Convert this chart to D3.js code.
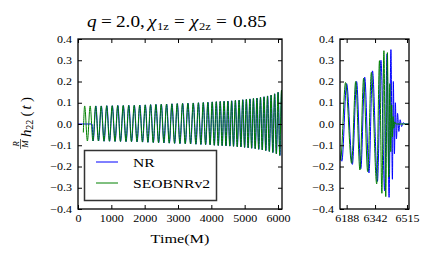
<!DOCTYPE html>
<html>
<head>
<meta charset="utf-8">
<script src="https://cdn.jsdelivr.net/npm/d3@7"></script>
<style>
  body { margin: 0; background: #fff; }
  text { font-family: "Liberation Serif", serif; fill: #000; }
</style>
</head>
<body>
<div class="chart"></div>
<script>
// extrema of the waveforms (time in M, strain)
var eobT = [160, 200, 282, 365, 448, 530, 612, 695, 778, 860, 942, 1025, 1108, 1190, 1272, 1355, 1438, 1520, 1602, 1685,
    1768, 1850, 1932, 2015, 2095, 2175, 2255, 2335, 2415, 2495, 2575, 2655, 2735, 2815, 2895, 2975, 3055, 3135, 3215, 3295,
    3375, 3455, 3535, 3610, 3684, 3756, 3826, 3894, 3960, 4024, 4086, 4146, 4205, 4264, 4322, 4380, 4437, 4494, 4551, 4607,
    4663, 4719, 4775, 4830, 4885, 4940, 4995, 5048, 5101, 5154, 5207, 5260, 5313, 5366, 5419, 5472, 5525, 5578, 5631, 5684,
    5737, 5790, 5843, 5896, 5948, 6000, 6052, 6104, 6155,
    6182, 6215, 6237, 6260, 6280, 6302, 6322, 6351, 6366, 6379, 6390, 6400, 6409, 6416, 6422, 6427, 6432, 6436, 6440, 6444,
    6448, 6455, 6526]
var eobH = [-0.04, 0.085, -0.08, 0.085, -0.08, 0.085, -0.08, 0.085, -0.081, 0.086, -0.081, 0.086, -0.082, 0.087, -0.082, 0.087, -0.083, 0.088, -0.083, 0.088,
    -0.084, 0.089, -0.085, 0.09, -0.086, 0.091, -0.087, 0.092, -0.088, 0.093, -0.089, 0.094, -0.09, 0.095, -0.091, 0.096, -0.092, 0.097, -0.093, 0.098,
    -0.094, 0.099, -0.095, 0.1, -0.096, 0.101, -0.097, 0.102, -0.098, 0.104, -0.1, 0.105, -0.101, 0.106, -0.102, 0.107, -0.103, 0.108, -0.104, 0.109,
    -0.105, 0.111, -0.107, 0.112, -0.108, 0.114, -0.11, 0.116, -0.112, 0.118, -0.114, 0.12, -0.116, 0.122, -0.119, 0.125, -0.122, 0.128, -0.125, 0.132,
    -0.129, 0.136, -0.134, 0.142, -0.14, 0.149, -0.148, 0.158, -0.17,
    0.195, -0.185, 0.2, -0.216, 0.215, -0.224, 0.243, -0.282, 0.298, -0.326, 0.345, -0.342, 0.336, -0.25, 0.19, -0.13, 0.09, -0.06, 0.035, -0.02,
    0.01, 0, 0]

var nrT = [0, 420, 454, 536, 618, 701, 784, 866, 948, 1031, 1114, 1196, 1278, 1361, 1444, 1526, 1608, 1691,
    1774, 1856, 1938, 2021, 2101, 2181, 2261, 2341, 2421, 2501, 2581, 2661, 2741, 2821, 2901, 2981, 3061, 3141, 3221, 3301,
    3381, 3461, 3541, 3616, 3690, 3762, 3832, 3900, 3966, 4030, 4092, 4152, 4211, 4270, 4328, 4386, 4443, 4500, 4557, 4613,
    4669, 4725, 4781, 4836, 4891, 4946, 5001, 5054, 5107, 5160, 5213, 5266, 5319, 5372, 5425, 5478, 5531, 5584, 5637, 5690,
    5743, 5796, 5849, 5902, 5954, 6006, 6058, 6110,
    6162, 6188, 6219, 6242, 6265, 6286, 6309, 6328, 6355, 6374, 6394, 6407, 6418, 6428, 6436, 6441, 6447, 6452, 6458, 6464,
    6471, 6478, 6486, 6494, 6505, 6526]
var nrH = [0, 0, -0.08, 0.085, -0.08, 0.085, -0.081, 0.086, -0.081, 0.086, -0.082, 0.087, -0.082, 0.087, -0.083, 0.088, -0.083, 0.088,
    -0.084, 0.089, -0.085, 0.09, -0.086, 0.091, -0.087, 0.092, -0.088, 0.093, -0.089, 0.094, -0.09, 0.095, -0.091, 0.096, -0.092, 0.097, -0.093, 0.098,
    -0.094, 0.099, -0.095, 0.1, -0.096, 0.101, -0.097, 0.102, -0.098, 0.104, -0.1, 0.105, -0.101, 0.106, -0.102, 0.107, -0.103, 0.108, -0.104, 0.109,
    -0.105, 0.111, -0.107, 0.112, -0.108, 0.114, -0.11, 0.116, -0.112, 0.118, -0.114, 0.12, -0.116, 0.122, -0.119, 0.125, -0.122, 0.128, -0.125, 0.132,
    -0.129, 0.136, -0.134, 0.142, -0.14, 0.149, -0.148, 0.158,
    -0.175, 0.19, -0.19, 0.2, -0.21, 0.22, -0.23, 0.25, -0.27, 0.3, -0.315, 0.33, -0.345, 0.35, -0.26, 0.2, -0.14, 0.1, -0.07, 0.05,
    -0.035, 0.02, -0.012, 0.006, 0, 0]

var yTicks = [-0.4, -0.3, -0.2, -0.1, 0.0, 0.1, 0.2, 0.3, 0.4]
var mainTicks = [0, 1000, 2000, 3000, 4000, 5000, 6000]
var zoomTicks = [6188, 6342, 6515]
var seriesNames = ['NR', 'SEOBNRv2']
var seriesColors = ['#0000ff', '#008000']

var width = 436, height = 269
var plotTop = 39, plotBottom = 209
var sx = 1.2   // glyphs in the picture are a bit wider than Liberation Serif

var svg = d3.select('.chart')
    .append('svg')
    .attr('width', width)
    .attr('height', height)

var y = d3.scaleLinear().domain([-0.4, 0.4]).range([plotBottom, plotTop])
var xMain = d3.scaleLinear().domain([0, 6120]).range([78, 282])
var xZoom = d3.scaleLinear().domain([6152, 6526]).range([340, 409])

function stretch(sel) {
    sel.each(function () {
        var t = d3.select(this)
        var x = +(t.attr('x') || 0)
        t.attr('x', x / sx).attr('transform', 'scale(' + sx + ',1)')
    })
}

function label(x, yy, str, size, italic, anchor) {
    var g = svg.append('g').attr('transform', 'translate(' + x + ',' + yy + ') scale(' + sx + ',1)')
    g.append('text')
        .attr('font-size', size)
        .attr('font-style', italic ? 'italic' : null)
        .attr('text-anchor', anchor || 'start')
        .text(str)
    return g
}

function panel(x, id) {
    var r = x.range()
    svg.append('clipPath').attr('id', id)
        .append('rect')
        .attr('x', r[0]).attr('y', plotTop)
        .attr('width', r[1] - r[0]).attr('height', plotBottom - plotTop)

    var series = [[nrT, nrH], [eobT, eobH]]
    series.forEach(function (s, k) {
        var line = d3.line()
            .x(function (i) { return x(s[0][i]) })
            .y(function (i) { return y(s[1][i]) })
            .curve(d3.curveMonotoneX)
        svg.append('path')
            .attr('clip-path', 'url(#' + id + ')')
            .attr('d', line(d3.range(s[0].length)))
            .attr('fill', 'none')
            .attr('stroke', seriesColors[k])
            .attr('stroke-width', 1)
    })
}

function frame(x, xTicks) {
    var r = x.range()
    var fmt = function (d) { return d3.format('.1f')(d) }

    var bottomAxis = svg.append('g')
        .attr('transform', 'translate(0,' + plotBottom + ')')
        .call(d3.axisBottom(x).tickValues(xTicks).tickSizeInner(-4).tickSizeOuter(0).tickPadding(6)
            .tickFormat(d3.format('d')))
    svg.append('g')
        .attr('transform', 'translate(0,' + plotTop + ')')
        .call(d3.axisTop(x).tickValues(xTicks).tickSizeInner(-4).tickSizeOuter(0).tickFormat(''))
    var leftAxis = svg.append('g')
        .attr('transform', 'translate(' + r[0] + ',0)')
        .call(d3.axisLeft(y).tickValues(yTicks).tickSizeInner(-4).tickSizeOuter(0).tickPadding(6)
            .tickFormat(fmt))
    svg.append('g')
        .attr('transform', 'translate(' + r[1] + ',0)')
        .call(d3.axisRight(y).tickValues(yTicks).tickSizeInner(-4).tickSizeOuter(0).tickFormat(''))

    svg.selectAll('.domain').remove()
    svg.selectAll('.tick line').attr('stroke', '#000').attr('stroke-width', 1)
    bottomAxis.selectAll('text').attr('font-size', 10).attr('font-family', '"Liberation Serif", serif').call(stretch)
    leftAxis.selectAll('text').attr('font-size', 10).attr('font-family', '"Liberation Serif", serif').call(stretch)

    svg.append('rect')
        .attr('x', r[0]).attr('y', plotTop)
        .attr('width', r[1] - r[0]).attr('height', plotBottom - plotTop)
        .attr('fill', 'none')
        .attr('stroke', '#000')
        .attr('stroke-width', 1.3)
}

panel(xMain, 'clipMain')
panel(xZoom, 'clipZoom')

// legend
svg.append('rect')
    .attr('x', 84.5).attr('y', 150.5)
    .attr('width', 132).attr('height', 50)
    .attr('fill', '#fff')
    .attr('stroke', '#333')
    .attr('stroke-width', 1.5)
seriesNames.forEach(function (name, i) {
    var ly = 162 + i * 21
    svg.append('line')
        .attr('x1', 96).attr('x2', 118)
        .attr('y1', ly).attr('y2', ly)
        .attr('stroke', seriesColors[i])
        .attr('stroke-width', 1)
    label(133, ly + 4.5, name, 13)
})

frame(xMain, mainTicks)
frame(xZoom, zoomTicks)

// title
label(87, 27, 'q', 16, true)
label(101, 27, '=', 16)
label(116, 27, '2.0,', 16)
label(148, 27, '\u03c7', 16, true)
label(157, 30, '1z', 10.5)
label(174, 27, '=', 16)
label(190, 27, '\u03c7', 16, true)
label(199, 30, '2z', 10.5)
label(216, 27, '=', 16)
label(233, 27, '0.85', 16)

// x label
label(180, 243, 'Time(M)', 13.5, false, 'middle')

// y label, rotated
var yl = svg.append('g').attr('transform', 'translate(31,124) rotate(-90)')
yl.append('text').attr('x', -20).attr('y', -12).attr('font-size', 8.5).attr('font-style', 'italic')
    .attr('text-anchor', 'middle').text('R')
yl.append('line').attr('x1', -25).attr('x2', -15).attr('y1', -10.5).attr('y2', -10.5)
    .attr('stroke', '#000').attr('stroke-width', 0.6)
yl.append('text').attr('x', -20).attr('y', -3.5).attr('font-size', 9).attr('font-style', 'italic')
    .attr('text-anchor', 'middle').text('M')
yl.append('text').attr('x', -13).attr('y', 0).attr('font-size', 15).attr('font-style', 'italic').text('h')
yl.append('text').attr('x', -5.7).attr('y', 2).attr('font-size', 10).text('22')
yl.append('text').attr('x', 7.5).attr('y', 0).attr('font-size', 15).text('(')
yl.append('text').attr('x', 14.5).attr('y', 0).attr('font-size', 15).attr('font-style', 'italic').text('t')
yl.append('text').attr('x', 22).attr('y', 0).attr('font-size', 15).text(')')
</script>
</body>
</html>
